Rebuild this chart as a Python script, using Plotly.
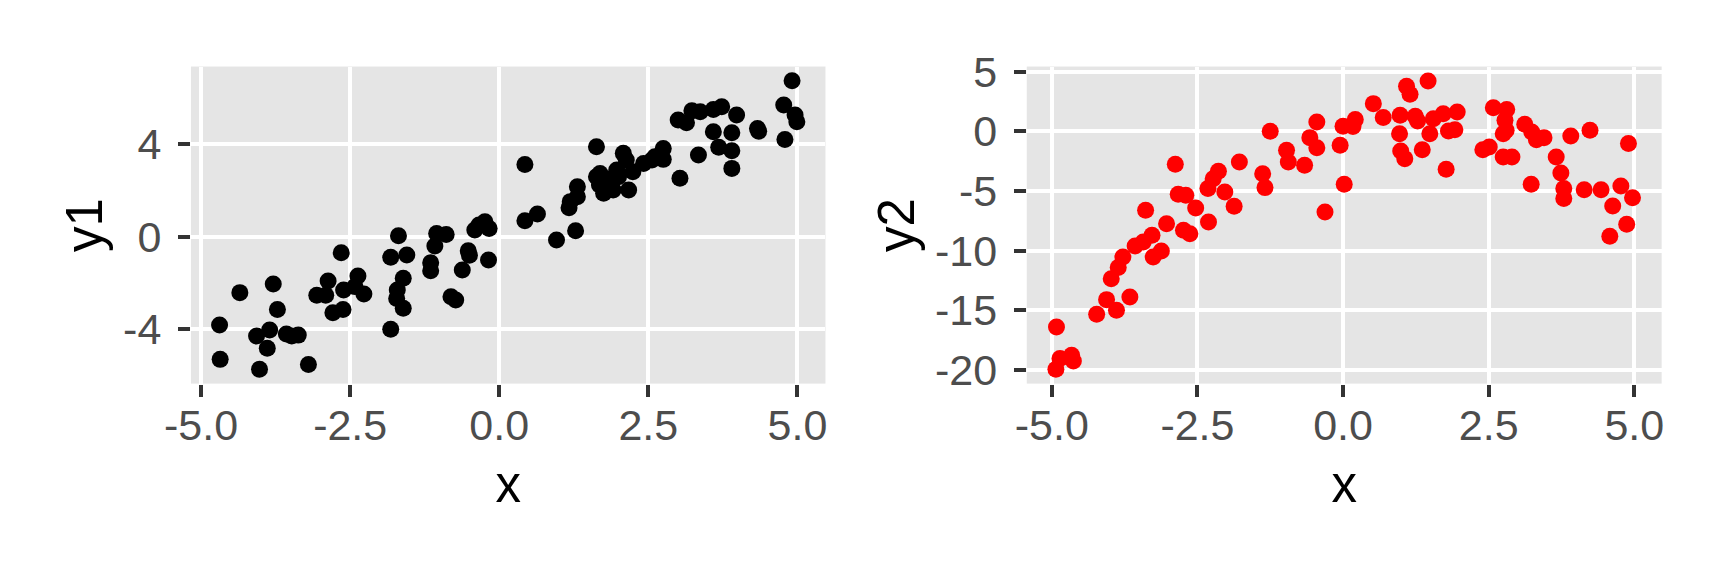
import plotly.graph_objects as go
from plotly.subplots import make_subplots

# left panel: x vs y1
x1 = [-4.69, -4.68, -4.35, -3.79, -3.72, -4.07, -3.85, -3.89, -4.02, -3.57,
      -3.48, -3.37, -3.20, -3.06, -2.91, -2.87, -2.79, -2.62, -2.65, -2.61,
      -2.37, -2.42, -2.27, -1.82, -1.82, -1.69, -1.55, -1.61, -1.71, -1.72,
      -1.61, -1.15, -1.15, -1.08, -1.05, -0.89, -0.81, -0.73, -0.62, -0.52,
      -0.50, -0.41, -0.34, -0.24, -0.17, -0.18,
      0.43, 0.43, 0.64, 0.96, 1.28, 1.17, 1.19, 1.31, 1.31, 1.63,
      1.63, 1.69, 1.68, 1.75, 1.80, 1.91, 1.97, 2.08, 2.13, 2.17,
      2.24, 2.42, 2.56, 2.61, 2.75, 2.75, 3.03, 3.00, 3.14, 3.23,
      3.37, 3.59, 3.73, 3.98, 3.59, 3.90, 3.34, 3.68, 3.90, 3.90,
      4.33, 4.35, 4.77, 4.91, 4.96, 4.99, 4.79, 1.72, 1.85, 2.00]
y1 = [-3.82, -5.31, -2.42, -2.05, -3.15, -4.30, -4.04, -4.83, -5.74, -4.21,
      -4.30, -4.26, -5.53, -2.53, -2.53, -1.92, -3.29, -3.15, -0.69, -2.31,
      -1.70, -2.16, -2.48, -4.01, -0.89, 0.04, -0.79, -1.80, -2.31, -2.67,
      -3.10, -1.13, -1.47, -0.40, 0.14, 0.10, -2.60, -2.74, -1.44, -0.61,
      -0.80, 0.29, 0.51, 0.65, 0.36, -1.01,
      3.13, 0.69, 0.98, -0.14, 0.26, 1.26, 1.52, 2.16, 1.73, 3.90,
      2.60, 2.74, 2.24, 1.88, 2.16, 2.02, 2.89, 3.61, 3.32, 2.02,
      2.81, 3.17, 3.32, 3.46, 3.82, 3.35, 2.53, 5.05, 4.94, 5.45,
      5.41, 5.51, 5.63, 5.27, 4.55, 4.50, 3.54, 3.87, 3.72, 2.96,
      4.69, 4.57, 5.70, 6.75, 5.27, 4.98, 4.21, 2.40, 2.50, 2.60]

# right panel: x vs y2
x2 = [-4.93, -4.92, -4.86, -4.66, -4.63, -4.23, -4.06, -3.89, -3.66, -3.98,
      -3.86, -3.78, -3.57, -3.43, -3.28, -3.12, -3.26, -3.39, -3.03, -2.88,
      -2.83, -2.70, -2.74, -2.63, -2.53, -2.32, -2.31, -2.23, -2.14, -2.03,
      -1.87, -1.78, -1.38, -1.34, -1.25, -0.97, -0.94, -0.66, -0.57, -0.45,
      -0.45, -0.31, -0.05, 0.00, 0.02, 0.17, 0.21,
      0.52, 0.69, 1.09, 1.15, 1.46, 0.98, 1.24, 1.28, 0.97, 0.99,
      1.06, 1.36, 1.49, 1.55, 1.72, 1.96, 1.81, 1.92, 1.77, 2.40,
      2.51, 2.58, 2.81, 2.78, 2.75, 2.80, 2.75, 2.90, 3.12, 3.24,
      3.32, 3.45, 3.23, 3.91, 4.24, 4.90, 3.66, 3.74, 3.79, 3.79,
      4.14, 4.43, 4.77, 4.97, 4.63, 4.87, 4.58]
y2 = [-19.94, -16.40, -19.05, -18.77, -19.25, -15.34, -14.11, -15.00, -13.88, -12.35,
      -11.42, -10.53, -9.61, -9.27, -8.72, -10.03, -10.53, -6.62, -7.74, -2.77,
      -5.28, -5.36, -8.30, -8.58, -6.42, -4.80, -7.60, -3.97, -3.35, -5.08,
      -6.28, -2.57, -3.55, -4.72, 0.00, -1.59, -2.57, -2.85, -0.53, 0.78,
      -1.37, -6.76, -1.17, 0.42, -4.44, 0.40, 0.98,
      2.32, 1.15, 3.77, 3.10, 4.22, 1.34, 1.26, 0.87, -0.20, -1.65,
      -2.29, -1.54, -0.20, 1.06, 1.48, 1.62, 0.03, 0.14, -3.18, -1.54,
      -1.31, 1.98, 1.82, 0.92, -0.20, 0.08, -2.15, -2.15, 0.59, -0.06,
      -0.70, -0.53, -4.44, -0.39, 0.08, -1.03, -2.15, -3.49, -4.80, -5.64,
      -4.89, -4.89, -4.58, -5.56, -6.26, -7.79, -8.80]

x_ticks = [-5, -2.5, 0, 2.5, 5]
x_ticktext = ["-5.0", "-2.5", "0.0", "2.5", "5.0"]
y1_ticks = [-4, 0, 4]
y1_ticktext = ["-4", "0", "4"]
y2_ticks = [-20, -15, -10, -5, 0, 5]
y2_ticktext = ["-20", "-15", "-10", "-5", "0", "5"]

FONT = "Liberation Sans, Arial, Helvetica, sans-serif"
TITLE_FONT = dict(family=FONT, size=51, color="black")

fig = make_subplots(rows=1, cols=2)
fig.add_trace(go.Scatter(x=x1, y=y1, mode="markers",
                         marker=dict(color="black", size=17, line=dict(width=0))),
              row=1, col=1)
fig.add_trace(go.Scatter(x=x2, y=y2, mode="markers",
                         marker=dict(color="#FF0000", size=17, line=dict(width=0))),
              row=1, col=2)

axis_common = dict(
    showgrid=True, gridcolor="white", gridwidth=3.5, zeroline=False,
    showline=False, ticks="outside", ticklen=12, tickwidth=3.5, tickcolor="#333333",
    tickfont=dict(family=FONT, size=43, color="#4D4D4D"),
    automargin=False,
)

fig.update_xaxes(**axis_common, tickvals=x_ticks, ticktext=x_ticktext,
                 ticklabelstandoff=-8,
                 title=dict(text="x", font=TITLE_FONT, standoff=18))
fig.update_xaxes(domain=[0.1105, 0.4777], range=[-5.17, 5.47], row=1, col=1)
fig.update_xaxes(domain=[0.5942, 0.9616], range=[-5.43, 5.47], row=1, col=2)

fig.update_yaxes(**axis_common, ticklabelstandoff=8)
fig.update_yaxes(domain=[0.334, 0.8845], range=[-6.36, 7.37],
                 tickvals=y1_ticks, ticktext=y1_ticktext,
                 title=dict(text="y1", font=TITLE_FONT, standoff=4),
                 row=1, col=1)
fig.update_yaxes(domain=[0.334, 0.8845], range=[-21.15, 5.43],
                 tickvals=y2_ticks, ticktext=y2_ticktext,
                 title=dict(text="y2", font=TITLE_FONT, standoff=4),
                 row=1, col=2)

fig.update_layout(
    width=1728, height=576,
    margin=dict(l=0, r=0, t=0, b=0),
    paper_bgcolor="white", plot_bgcolor="#E5E5E5",
    showlegend=False,
    font=dict(family=FONT),
)

# drop the page's default body margin so the figure sits at the window corner
fig.write_html("out.html", config={"displayModeBar": False},
               post_script="document.body.style.margin='0';")
